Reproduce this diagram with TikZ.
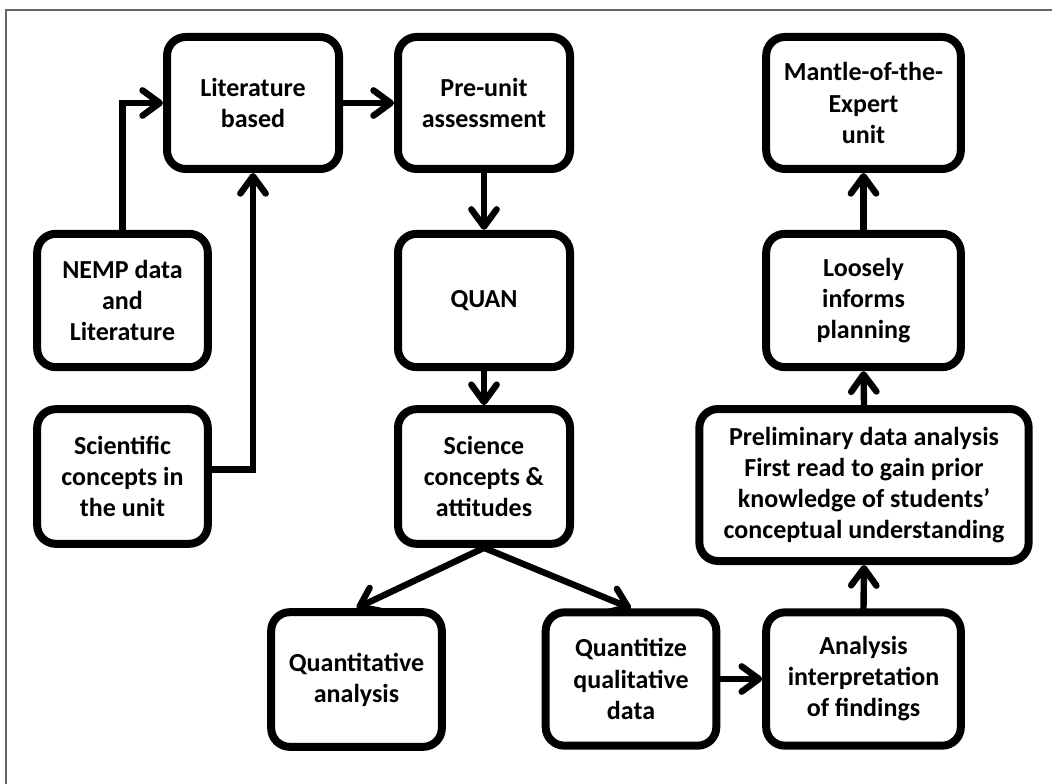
\documentclass[tikz,border=0pt]{standalone}
\usepackage{fontspec}
\setmainfont{Carlito}
\usetikzlibrary{arrows.meta,calc}
\begin{document}
\begin{tikzpicture}[x=0.75pt,y=-0.75pt,
  box/.style={draw=black, line width=6pt, rounded corners=14pt, fill=white,
    align=center, inner sep=0pt,
    font=\fontsize{19.5}{23.3}\selectfont\bfseries},
  conn/.style={line width=4.8pt, line cap=round, line join=miter,
    -{Straight Barb[length=13pt,width=19pt,round]}}]
\useasboundingbox (0,0) rectangle (1052,784);
\draw[line width=0.8pt, color=black!60] (6,784) -- (6,10) -- (1052,10);
% boxes
\node[box, minimum width=129pt, minimum height=99pt] (lit) at (253,103) {Literature\\based};
\node[box, minimum width=129pt, minimum height=99pt] (pre) at (484,103) {Pre-unit\\assessment};
\node[box, minimum width=146pt, minimum height=99pt] (mantle) at (863.5,103) {Mantle-of-the-\\Expert\\unit};
\node[box, minimum width=128pt, minimum height=100pt] (nemp) at (122.5,300.5) {NEMP data\\and\\Literature};
\node[box, minimum width=129pt, minimum height=100pt] (quan) at (484,300.5) {QUAN};
\node[box, minimum width=146pt, minimum height=100pt] (loose) at (863.5,300.5) {Loosely\\informs\\planning};
\node[box, minimum width=128pt, minimum height=101pt] (sci) at (122.5,476.5) {Scientific\\concepts in\\the unit};
\node[box, minimum width=129pt, minimum height=101pt] (scc) at (484,476.5) {Science\\concepts \&\\attitudes};
\node[box, minimum width=247pt, minimum height=114pt] (prelim) at (864,485) {Preliminary data analysis\\First read to gain prior\\knowledge of students’\\conceptual understanding};
\node[box, minimum width=128pt, minimum height=101pt] (quant) at (356.5,679.5) {Quantitative\\analysis};
\node[box, minimum width=128pt, minimum height=100pt] (qtz) at (631,679) {Quantitize\\qualitative\\data};
\node[box, minimum width=146pt, minimum height=100pt] (anal) at (863.5,679) {Analysis\\interpretation\\of findings};
% connectors
\draw[conn] (nemp.north) -- (nemp.north |- lit.west) -- (lit.west);
\coordinate (scout) at ($(sci.east)+(0,-7)$);
\draw[conn] (scout) -- (scout -| lit.south) -- (lit.south);
\draw[conn] (lit.east) -- (pre.west);
\draw[conn] (pre.south) -- (quan.north);
\draw[conn] (quan.south) -- (scc.north);
\draw[conn] (scc.south) -- (quant.north);
\draw[conn] (scc.south) -- (qtz.north);
\draw[conn] (qtz.east) -- (anal.west);
\draw[conn] (anal.north) -- (prelim.south);
\draw[conn] (prelim.north) -- (loose.south);
\draw[conn] (loose.north) -- (mantle.south);
\end{tikzpicture}
\end{document}
